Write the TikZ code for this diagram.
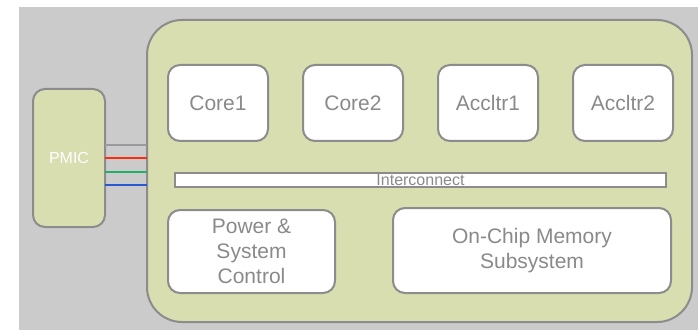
\documentclass[tikz,border=0pt]{standalone}
\usepackage{fontspec}
\setmainfont{Liberation Sans}
\usetikzlibrary{positioning}
\definecolor{chipfill}{HTML}{D8DEB0}
\definecolor{chipedge}{HTML}{8C8C8C}
\definecolor{backgrey}{HTML}{CBCBCB}
\definecolor{labelgrey}{HTML}{8A8A8A}
\definecolor{railgrey}{HTML}{9A9A9A}
\definecolor{railred}{HTML}{FF2A10}
\definecolor{railgreen}{HTML}{22B068}
\definecolor{railblue}{HTML}{2A58D0}
\tikzset{%
  chip/.style={draw=chipedge, fill=chipfill, line width=2pt, rounded corners=35pt,
    inner sep=0pt, outer sep=0pt},
  block/.style={draw=chipedge, fill=white, line width=2pt, rounded corners=12pt,
    inner sep=0pt, outer sep=0pt, text=labelgrey, align=center,
    font=\fontsize{21}{25}\selectfont},
  corebox/.style={block, minimum width=100pt, minimum height=76pt},
  busbar/.style={draw=chipedge, fill=white, line width=2pt, inner sep=0pt, outer sep=0pt,
    minimum width=491pt, minimum height=14pt},
  buslabel/.style={text=labelgrey, inner sep=0pt, font=\fontsize{16}{16}\selectfont},
  rail/.style={line width=1.5pt}
}

\begin{document}
\begin{tikzpicture}[x=1pt, y=-1pt]
  \useasboundingbox (0,0) rectangle (698,331);
  \fill[backgrey] (19,7) rectangle (698,330);

  % the chip and the power IC beside it
  \node[chip, minimum width=545pt, minimum height=302pt] (soc) at (419.5,171) {};
  \node[chip, rounded corners=12pt, minimum width=72pt, minimum height=138pt,
    text=white, font=\fontsize{16}{16}\selectfont] (pmic) at (69,158) {PMIC};

  % compute row
  \node[corebox] (core1) at (218,103) {Core1};
  \node[corebox, right=35pt of core1] (core2) {Core2};
  \node[corebox, right=35pt of core2] (acc1) {Accltr1};
  \node[corebox, right=35pt of acc1] (acc2) {Accltr2};

  \node[busbar, label={[buslabel]center:Interconnect}] (bus) at (420.5,180) {};

  \node[block, minimum width=167pt, minimum height=83pt] (pwr) at (251.5,251.5)
    {Power \&\\System\\Control};
  \node[block, minimum width=278pt, minimum height=85pt] (mem) at (532,250.5)
    {On-Chip Memory\\Subsystem};

  % supply rails
  \foreach \col/\dy in {railgrey/13pt, railred/0pt, railgreen/-14pt, railblue/-27pt}
    \draw[rail, \col] ([yshift=\dy]pmic.east) -- ([yshift=\dy]pmic.east -| soc.west);
\end{tikzpicture}
\end{document}
